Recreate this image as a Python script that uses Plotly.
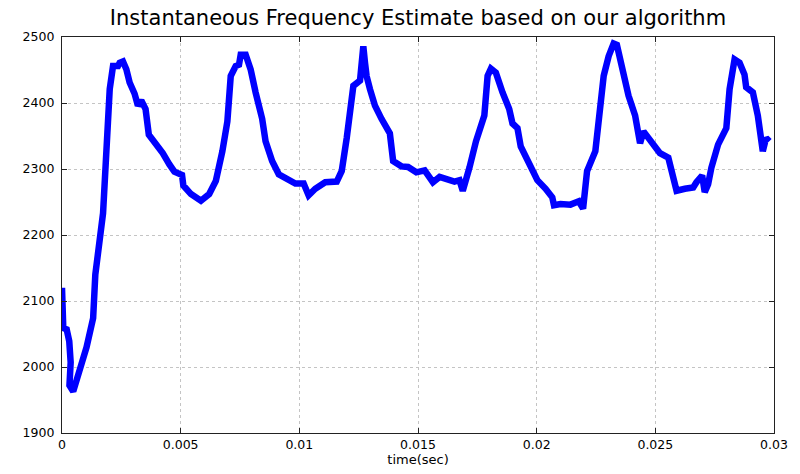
import plotly.graph_objects as go

time_sec = [0.0, 0.000054, 0.000197, 0.000306, 0.000365, 0.000314, 0.000473, 0.000754,
            0.001035, 0.001312, 0.001404, 0.00173, 0.0018, 0.001873, 0.00194, 0.002011,
            0.00215, 0.002359, 0.00243, 0.002568, 0.002711, 0.002849, 0.003059, 0.003197,
            0.003339, 0.00352, 0.003658, 0.003968, 0.004244, 0.004525, 0.004735, 0.005057,
            0.005112, 0.005434, 0.005853, 0.006201, 0.006482, 0.006758, 0.006968, 0.00711,
            0.00732, 0.007458, 0.007529, 0.007739, 0.007948, 0.008158, 0.008434, 0.008577,
            0.008853, 0.009134, 0.009553, 0.009834, 0.010182, 0.010391, 0.010672, 0.011091,
            0.011577, 0.011787, 0.011997, 0.012206, 0.012277, 0.012557, 0.012696, 0.012767,
            0.012834, 0.012976, 0.013186, 0.013462, 0.013814, 0.013953, 0.014301, 0.014581,
            0.014929, 0.015281, 0.015419, 0.015629, 0.01591, 0.016257, 0.016538, 0.016748,
            0.016886, 0.017167, 0.017443, 0.017795, 0.017933, 0.018072, 0.018281, 0.018562,
            0.018843, 0.018981, 0.019191, 0.019329, 0.01961, 0.020029, 0.020377, 0.020658,
            0.020729, 0.021005, 0.021424, 0.021776, 0.021956, 0.022124, 0.022472, 0.022614,
            0.022824, 0.023033, 0.023243, 0.023381, 0.023591, 0.023871, 0.024148, 0.024357,
            0.0245, 0.024709, 0.024919, 0.025195, 0.025547, 0.025756, 0.025895, 0.026243,
            0.026595, 0.026733, 0.026972, 0.027081, 0.027224, 0.027362, 0.027643, 0.027991,
            0.028062, 0.028129, 0.028338, 0.028548, 0.028757, 0.028828, 0.029109, 0.029318,
            0.029528, 0.029666, 0.029804]

freq_hz = [2120, 2059, 2057, 2039, 2007, 1972, 1963, 1994,
           2030, 2074, 2140, 2233, 2277, 2332, 2387, 2421,
           2456, 2456, 2461, 2463, 2451, 2431, 2414, 2396,
           2404, 2391, 2352, 2339, 2324, 2307, 2296, 2291,
           2275, 2262, 2252, 2262, 2282, 2327, 2372, 2441,
           2456, 2458, 2473, 2473, 2451, 2416, 2376, 2342,
           2312, 2292, 2285, 2278, 2278, 2260, 2270, 2280,
           2281, 2297, 2347, 2396, 2426, 2434, 2486, 2461,
           2441, 2421, 2396, 2376, 2354, 2312, 2304, 2303,
           2295, 2298, 2292, 2280, 2288, 2285, 2281, 2283,
           2267, 2302, 2342, 2381, 2441, 2452, 2446, 2416,
           2391, 2369, 2362, 2334, 2312, 2283, 2270, 2257,
           2245, 2247, 2246, 2251, 2240, 2297, 2327, 2367,
           2441, 2471, 2490, 2488, 2456, 2411, 2381, 2339,
           2357, 2347, 2334, 2324, 2317, 2292, 2267, 2270,
           2272, 2280, 2290, 2265, 2277, 2302, 2337, 2362,
           2386, 2421, 2466, 2461, 2443, 2424, 2416, 2381,
           2327, 2347, 2342]

x_ticks = [0, 0.005, 0.01, 0.015, 0.02, 0.025, 0.03]
x_tick_labels = ["0", "0.005", "0.01", "0.015", "0.02", "0.025", "0.03"]
y_ticks = [1900, 2000, 2100, 2200, 2300, 2400, 2500]

FONT = "DejaVu Sans, Liberation Sans, Arial, sans-serif"

fig = go.Figure()
fig.add_trace(go.Scatter(
    x=time_sec, y=freq_hz, mode="lines",
    line=dict(color="#0000ff", width=6.5, shape="linear"),
    showlegend=False, hoverinfo="skip",
))

axis_common = dict(
    showline=True, linecolor="#222222", linewidth=1.2, mirror="ticks",
    ticks="inside", ticklen=5, tickcolor="#222222",
    showgrid=True, gridcolor="#c4c4c4", griddash="dot", gridwidth=1,
    zeroline=False,
    tickfont=dict(family=FONT, size=12.5, color="black"),
)

fig.update_layout(
    width=800, height=474,
    margin=dict(l=62, r=21, t=37, b=34),
    paper_bgcolor="white", plot_bgcolor="white",
    title=dict(
        text="Instantaneous Frequency Estimate based on our algorithm",
        x=418 / 800, xanchor="center", y=0.963, yanchor="middle",
        font=dict(family=FONT, size=21, color="black"),
    ),
    xaxis=dict(
        range=[0, 0.03], tickvals=x_ticks, ticktext=x_tick_labels,
        title=dict(text="time(sec)", standoff=1,
                   font=dict(family=FONT, size=13, color="black")),
        **axis_common,
    ),
    yaxis=dict(
        range=[1900, 2500], tickvals=y_ticks, ticklabelstandoff=4,
        **axis_common,
    ),
)

fig.write_html("out.html")
